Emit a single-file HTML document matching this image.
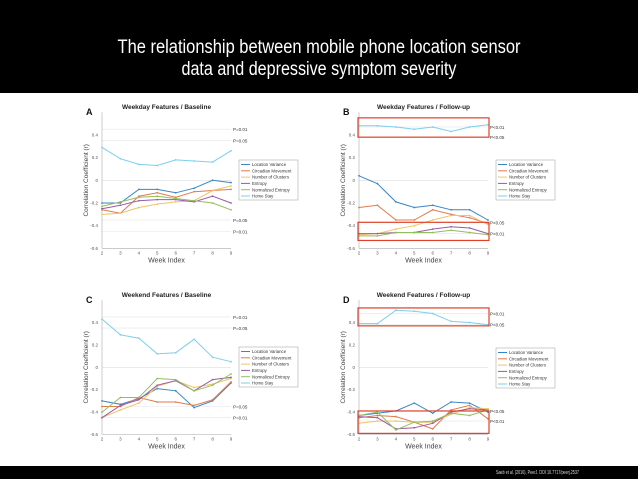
<!DOCTYPE html>
<html><head><meta charset="utf-8">
<style>
html,body{margin:0;padding:0;background:#fff;width:638px;height:479px;overflow:hidden}
svg{display:block;font-family:"Liberation Sans",Arial,sans-serif}
</style></head>
<body>
<svg id="s" width="638" height="479" viewBox="0 0 638 479">
<rect x="0" y="0" width="638" height="93" fill="#000"/>
<text x="319" y="53" fill="#fff" font-size="19" text-anchor="middle" textLength="403" lengthAdjust="spacingAndGlyphs">The relationship between mobile phone location sensor</text>
<text x="319" y="75" fill="#fff" font-size="19" text-anchor="middle" textLength="275" lengthAdjust="spacingAndGlyphs">data and depressive symptom severity</text>
<rect x="0" y="466" width="638" height="13" fill="#000"/>
<text x="579" y="474" fill="#ddd" font-size="5.5" text-anchor="end" textLength="83" lengthAdjust="spacingAndGlyphs">Saeb et al. (2016), PeerJ. DOI 10.7717/peerj.2537</text>
<g id="charts"></g>
</svg>
<script>
const weeks=[2,3,4,5,6,7,8,9];
const yTicks=[-0.6,-0.4,-0.2,0,0.2,0.4];
const yTickLabels=["-0.6","-0.4","-0.2","0","0.2","0.4"];
const seriesNames=["Location Variance","Circadian Movement","Number of Clusters","Entropy","Normalized Entropy","Home Stay"];
const colors=["#3a86c4","#e07a4c","#f0c466","#9a5aa6","#94be5e","#7ccfee"];
const aLV=[-0.20,-0.20,-0.08,-0.08,-0.11,-0.07,0.00,-0.02];
const aCM=[-0.26,-0.29,-0.14,-0.11,-0.15,-0.10,-0.09,-0.08];
const aNC=[-0.30,-0.29,-0.24,-0.21,-0.19,-0.18,-0.09,-0.05];
const aEN=[-0.25,-0.22,-0.18,-0.17,-0.17,-0.19,-0.14,-0.20];
const aNE=[-0.23,-0.19,-0.15,-0.14,-0.16,-0.18,-0.20,-0.26];
const aHS=[0.29,0.19,0.14,0.13,0.18,0.17,0.16,0.26];
const bLV=[0.04,-0.03,-0.19,-0.24,-0.22,-0.26,-0.26,-0.35];
const bCM=[-0.24,-0.22,-0.35,-0.35,-0.26,-0.30,-0.33,-0.38];
const bNC=[-0.48,-0.47,-0.43,-0.40,-0.35,-0.31,-0.31,-0.39];
const bEN=[-0.47,-0.47,-0.46,-0.46,-0.43,-0.41,-0.42,-0.47];
const bNE=[-0.49,-0.49,-0.46,-0.46,-0.46,-0.44,-0.46,-0.48];
const bHS=[0.48,0.48,0.47,0.45,0.47,0.43,0.47,0.49];
const cLV=[-0.30,-0.33,-0.28,-0.19,-0.21,-0.36,-0.30,-0.14];
const cCM=[-0.35,-0.35,-0.27,-0.31,-0.31,-0.34,-0.29,-0.13];
const cNC=[-0.45,-0.38,-0.32,-0.17,-0.12,-0.18,-0.15,-0.10];
const cEN=[-0.45,-0.34,-0.29,-0.16,-0.12,-0.21,-0.11,-0.09];
const cNE=[-0.40,-0.27,-0.27,-0.10,-0.11,-0.21,-0.16,-0.06];
const cHS=[0.43,0.29,0.26,0.12,0.13,0.25,0.09,0.05];
const dLV=[-0.43,-0.41,-0.39,-0.32,-0.41,-0.31,-0.32,-0.40];
const dCM=[-0.45,-0.43,-0.44,-0.49,-0.55,-0.38,-0.34,-0.46];
const dNC=[-0.50,-0.48,-0.48,-0.49,-0.49,-0.42,-0.36,-0.37];
const dEN=[-0.44,-0.45,-0.55,-0.54,-0.50,-0.40,-0.37,-0.38];
const dNE=[-0.43,-0.40,-0.56,-0.49,-0.48,-0.41,-0.43,-0.38];
const dHS=[0.39,0.39,0.51,0.50,0.48,0.41,0.40,0.38];
const aP=[0.45,0.35,-0.35,-0.45];
const bP=[0.47,0.38,-0.37,-0.47];
const cP=[0.45,0.35,-0.35,-0.45];
const dP=[0.48,0.38,-0.39,-0.48];
const pLabelsAC=["P=0.01","P=0.05","P=0.05","P=0.01"];
const pLabelsBD=["P<0.01","P<0.05","P<0.05","P<0.01"];

const NS="http://www.w3.org/2000/svg";
const root=document.getElementById('charts');
function mk(tag,attrs,parent,txt){const e=document.createElementNS(NS,tag);for(const k in attrs)e.setAttribute(k,attrs[k]);if(txt!==undefined)e.textContent=txt;(parent||root).appendChild(e);return e;}

const panels=[
 {id:"a",letter:"A",title:"Weekday Features / Baseline",x0:102,x1:231,y0:180.3,k:113.5,series:[aLV,aCM,aNC,aEN,aNE,aHS],p:aP,pl:pLabelsAC,boxes:null,lx:239,ly:160},
 {id:"b",letter:"B",title:"Weekday Features / Follow-up",x0:359,x1:488,y0:180.3,k:113.5,series:[bLV,bCM,bNC,bEN,bNE,bHS],p:bP,pl:pLabelsBD,boxes:[[0.55,0.38],[-0.37,-0.53]],lx:496,ly:160},
 {id:"c",letter:"C",title:"Weekend Features / Baseline",x0:102,x1:231,y0:367.3,k:112,series:[cLV,cCM,cNC,cEN,cNE,cHS],p:cP,pl:pLabelsAC,boxes:null,lx:239,ly:347},
 {id:"d",letter:"D",title:"Weekend Features / Follow-up",x0:359,x1:488,y0:367.3,k:112,series:[dLV,dCM,dNC,dEN,dNE,dHS],p:dP,pl:pLabelsBD,boxes:[[0.53,0.37],[-0.39,-0.59]],lx:496,ly:348}
];

panels.forEach(P=>{
 const g=mk('g',{});
 
 
 const xs=w=>P.x0+(w-2)/7*(P.x1-P.x0);
 const ys=v=>P.y0-v*P.k;
 const top=ys(0.6), bot=ys(-0.6);
 const lt=mk('text',{x:P.x0-16,y:top+3,'font-size':9,'font-weight':'bold',fill:'#111'},g,P.letter);
 
 const tt=mk('text',{x:(P.x0+P.x1)/2,y:top-3,'font-size':6.5,'font-weight':'bold','text-anchor':'middle',fill:'#222'},g,P.title);
 
 // zero line
 const z=mk('line',{x1:P.x0,x2:P.x1,y1:ys(0),y2:ys(0),stroke:'#ddd','stroke-width':0.6},g);
 
 // p lines
 P.p.forEach((v,i)=>{
  const l=mk('line',{x1:P.x0,x2:P.x1,y1:ys(v),y2:ys(v),stroke:'#e4e4e4','stroke-width':0.6},g);
  
  const t=mk('text',{x:P.x1+2,y:ys(v)+2,'font-size':4.5,fill:'#333'},g,P.pl[i]);
  
 });
 // axes
 const ax=mk('line',{x1:P.x0,x2:P.x0,y1:top,y2:bot,stroke:'#aaa','stroke-width':0.6},g);
 
 const bx=mk('line',{x1:P.x0,x2:P.x1,y1:bot,y2:bot,stroke:'#aaa','stroke-width':0.6},g);
 
 yTicks.forEach((v,i)=>{
  const t=mk('text',{x:P.x0-4,y:ys(v)+1.5,'font-size':4.5,'text-anchor':'end',fill:'#555'},g,yTickLabels[i]);
  
 });
 weeks.forEach(w=>{
  const t=mk('text',{x:xs(w),y:bot+6,'font-size':4.5,'text-anchor':'middle',fill:'#555'},g,String(w));
  
 });
 const xl=mk('text',{x:(P.x0+P.x1)/2,y:bot+14,'font-size':7,'text-anchor':'middle',fill:'#444'},g,'Week Index');
 
 const yl=mk('text',{x:0,y:0,'font-size':6.5,'text-anchor':'middle',fill:'#444',transform:`translate(${P.x0-14},${P.y0}) rotate(-90)`},g,'Correlation Coefficient (r)');
 
 // series
 P.series.forEach((arr,si)=>{
  const pts=arr.map((v,i)=>xs(weeks[i]).toFixed(1)+','+ys(v).toFixed(1)).join(' ');
  const pl=mk('polyline',{points:pts,fill:'none',stroke:colors[si],'stroke-width':1},g);
  
  arr.forEach((v,i)=>{
   const m=mk('circle',{cx:xs(weeks[i]),cy:ys(v),r:0.9,fill:colors[si]},g);
   
  });
 });
 if(P.boxes){P.boxes.forEach(b=>{
  const r=mk('rect',{x:P.x0-1,y:ys(b[0]),width:P.x1-P.x0+2,height:ys(b[1])-ys(b[0]),fill:'none',stroke:'#e0402a','stroke-width':1.2},g);
  
 });}
 // legend
 const lg=mk('g',{},g);
 
 mk('rect',{x:P.lx,y:P.ly,width:59,height:40,fill:'#fff',stroke:'#999','stroke-width':0.5},lg);
 seriesNames.forEach((n,i)=>{
  const yy=P.ly+4.5+i*6.3;
  const l=mk('line',{x1:P.lx+2,x2:P.lx+11,y1:yy,y2:yy,stroke:colors[i],'stroke-width':1},lg);
  
  const t=mk('text',{x:P.lx+13,y:yy+1.6,'font-size':4.3,fill:'#333'},lg,n);
  
 });
});
</script>
</body></html>
